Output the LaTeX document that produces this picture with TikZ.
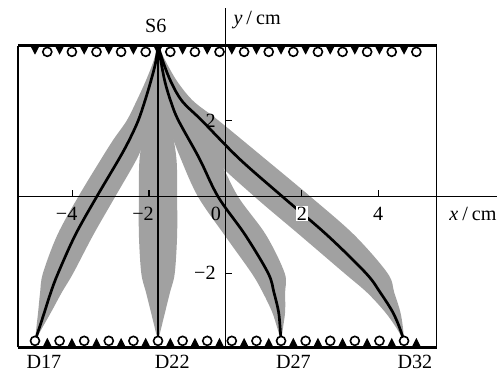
\documentclass[tikz,border=0pt]{standalone}
\usepackage{fontspec}
\setmainfont{Liberation Serif}
\begin{document}
\begin{tikzpicture}[x=1cm,y=1cm,font=\fontsize{15}{17}\selectfont,
  band/.style={fill=black!37,draw=none},
  ray/.style={line width=2pt,line cap=round},
  axis/.style={line width=0.8pt},
  lbl/.style={inner sep=0pt},
  det/.style={draw=black,fill=white,line width=1.2pt},
  srcmark/.style={fill=black}]
\useasboundingbox (-5.90,-4.64) rectangle (7.24,5.152);
% named end points
\coordinate (S6) at (-1.764,3.96);
\coordinate (D17) at (-4.984,-3.775);
\coordinate (D22) at (-1.764,-3.775);
\coordinate (D27) at (1.456,-3.775);
\coordinate (D32) at (4.676,-3.775);
% bands
\fill[band] plot[smooth,tension=0.55] coordinates {(S6) (-1.90,3.5) (-2.10,3.0) (-2.33,2.5) (-2.58,2.0) (-2.93,1.5) (-3.246,1.0) (-3.853,0) (-4.40,-1) (-4.776,-2) (-4.85,-2.5) (-4.90,-3) (-4.945,-3.4) (D17)}
  -- plot[smooth,tension=0.55] coordinates {(D17) (-4.779,-3.4) (-4.552,-3) (-4.281,-2.5) (-3.984,-2) (-3.46,-1) (-2.887,0) (-2.314,1.0) (-2.12,1.5) (-1.96,2.0) (-1.87,2.5) (-1.80,3.0) (-1.75,3.5) (S6)} -- cycle;
\fill[band] plot[smooth,tension=0.55] coordinates {(S6) (-1.845,3.5) (-1.925,3.0) (-2.005,2.5) (-2.086,2.0) (-2.246,1.0) (-2.264,0) (-2.264,-1) (-2.202,-2) (-2.078,-2.5) (-1.954,-3) (-1.856,-3.4) (D22)}
  -- plot[smooth,tension=0.55] coordinates {(D22) (-1.672,-3.4) (-1.574,-3) (-1.45,-2.5) (-1.326,-2) (-1.264,-1) (-1.264,0) (-1.282,1) (-1.442,2) (-1.523,2.5) (-1.603,3) (-1.683,3.5) (S6)} -- cycle;
\fill[band] plot[smooth,tension=0.55] coordinates {(S6) (-1.754,3.5) (-1.729,3.0) (-1.66,2.5) (-1.548,2.0) (-1.169,1.0) (-0.715,0) (-0.024,-1) (0.688,-2) (0.977,-2.5) (1.217,-3) (1.348,-3.4) (D27)}
  -- plot[smooth,tension=0.55] coordinates {(D27) (1.512,-3.4) (1.563,-3) (1.563,-2.5) (1.552,-2) (1.064,-1) (0.335,0) (-0.191,1) (-0.912,2) (-1.20,2.5) (-1.431,3) (-1.606,3.5) (S6)} -- cycle;
\fill[band] plot[smooth,tension=0.55] coordinates {(S6) (-1.70,3.5) (-1.593,3.0) (-1.427,2.5) (-1.057,2.0) (-0.311,1.0) (0.768,0) (1.946,-1) (3.115,-2) (3.702,-2.5) (4.165,-3) (4.456,-3.4) (D32)}
  -- plot[smooth,tension=0.55] coordinates {(D32) (4.644,-3.4) (4.575,-3) (4.418,-2.5) (4.245,-2) (3.374,-1) (2.232,0) (1.031,1) (-0.183,2) (-0.833,2.5) (-1.247,3) (-1.539,3.5) (S6)} -- cycle;
% axes
\coordinate (xa0) at (-5.43,0);
\coordinate (xa1) at (7.12,0);
\coordinate (ya0) at (0,-3.94);
\coordinate (ya1) at (0,4.94);
\draw[axis] (xa0) -- (xa1);
\draw[axis] (ya0) -- (ya1);
\foreach \t in {-4,-2,2,4} \draw[axis] (\t,0) -- (\t,0.18);
\foreach \t in {-2,2} \draw[axis] (0,\t) -- (0.18,\t);
% rays
\draw[ray] plot[smooth,tension=0.55] coordinates {(S6) (-1.83,3.5) (-1.96,3.0) (-2.11,2.5) (-2.28,2.0) (-2.51,1.5) (-2.78,1.0) (-3.37,0) (-3.93,-1) (-4.38,-2) (-4.57,-2.5) (-4.73,-3) (-4.86,-3.4) (D17)};
\draw[ray] (S6) -- (D22);
\draw[ray] plot[smooth,tension=0.55] coordinates {(S6) (-1.68,3.5) (-1.58,3.0) (-1.43,2.5) (-1.23,2.0) (-0.68,1.0) (-0.19,0) (0.52,-1) (1.12,-2) (1.27,-2.5) (1.39,-3) (1.43,-3.4) (D27)};
\draw[ray] plot[smooth,tension=0.55] coordinates {(S6) (-1.62,3.5) (-1.42,3.0) (-1.13,2.5) (-0.62,2.0) (0.36,1.0) (1.50,0) (2.66,-1) (3.68,-2) (4.05,-2.5) (4.37,-3) (4.55,-3.4) (D32)};
% frame
\coordinate (bl) at (-5.43,-3.94);
\coordinate (br) at (5.526,-3.94);
\coordinate (tl) at (-5.43,3.96);
\coordinate (tr) at (5.526,3.96);
\draw[line width=1pt] (bl) -- (tl);
\draw[line width=1pt] (br) -- (tr);
\draw[line width=2.6pt] (tl) -- (tr);
\draw[line width=2.6pt] (bl) -- (br);
% source row (top) and detector row (bottom)
\foreach \k in {0,...,15} {
  \pgfmathsetmacro\xa{-4.984+0.644*\k}
  \pgfmathsetmacro\xb{-4.984+0.322+0.644*\k}
  \fill[srcmark] (\xa-0.125,3.96) -- (\xa+0.125,3.96) -- (\xa,3.72) -- cycle;
  \draw[det] (\xb,3.795) circle (0.118);
  \fill[srcmark] (\xb-0.125,-3.94) -- (\xb+0.125,-3.94) -- (\xb,-3.69) -- cycle;
  \draw[det] (\xa,-3.77) circle (0.118);
}
% labels
\node[lbl,anchor=base] (lS6) at (-1.82,4.29) {S6};
\node[lbl,anchor=base] (lD17) at (-4.75,-4.50) {D17};
\node[lbl,anchor=base] (lD22) at (-1.39,-4.50) {D22};
\node[lbl,anchor=base] (lD27) at (1.78,-4.50) {D27};
\node[lbl,anchor=base] (lD32) at (4.96,-4.50) {D32};
\node[lbl,anchor=base] (ly) at (0.83,4.50) {\textit{y}\hspace{0.2em}/\hspace{0.2em}cm};
\node[lbl,anchor=base] (lx) at (6.48,-0.61) {\textit{x}\hspace{0.2em}/\hspace{0.2em}cm};
\node[lbl,anchor=base east] (tm4) at (-3.868,-0.61) {−4};
\node[lbl,anchor=base east] (tm2) at (-1.868,-0.61) {−2};
\node[lbl,anchor=base] (t0) at (-0.25,-0.61) {0};
\node[anchor=base,fill=white,inner sep=0.6pt] (t2) at (2,-0.61) {2};
\node[lbl,anchor=base] (t4) at (4,-0.61) {4};
\node[lbl,anchor=east] (ty2) at (-0.25,2) {2};
\node[lbl,anchor=east] (tym2) at (-0.25,-2) {−2};
\end{tikzpicture}
\end{document}
